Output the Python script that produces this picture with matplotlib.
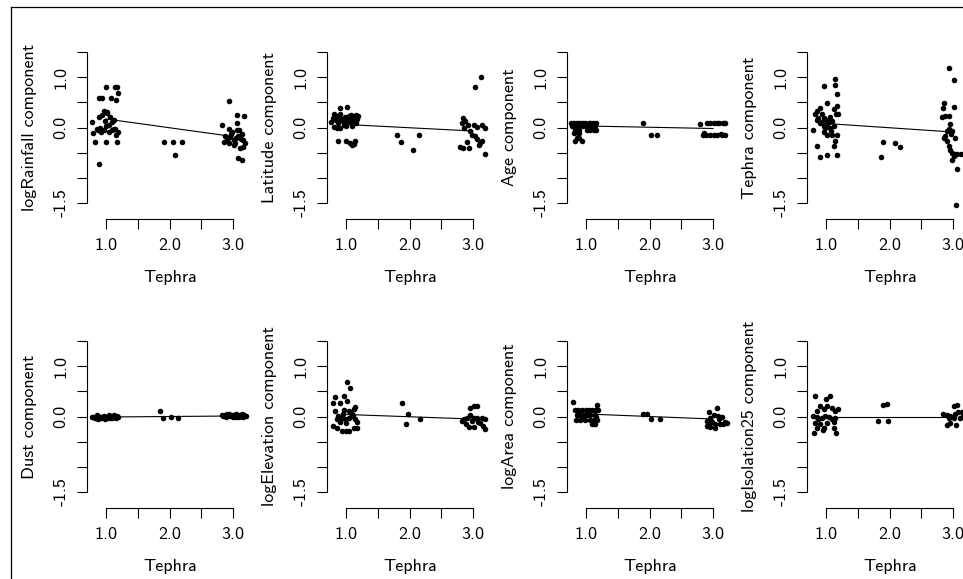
import matplotlib
matplotlib.use("Agg")
import matplotlib.pyplot as plt
from matplotlib.lines import Line2D

plt.rcParams['font.family'] = ['cmss10', 'DejaVu Sans']
plt.rcParams['axes.unicode_minus'] = False

# ---- partial residuals against (jittered) Tephra, one pair of lists per panel ----
rain_x = [0.995, 1.14, 1.18, 0.89, 0.93, 1.08, 1.15, 1.19, 0.97, 1.01, 0.94, 0.785, 0.89, 1.06, 1.13,
          0.80, 0.85, 0.905, 0.96, 0.995, 1.04, 1.09, 1.14, 1.19, 0.92, 0.83, 0.995, 1.17, 0.89,
          1.02, 1.10, 1.12, 0.87, 1.05, 0.98, 1.16,
          1.91, 2.06, 2.19, 2.09,
          2.93, 2.82, 2.94, 3.06, 3.18, 3.06, 2.98, 2.87, 2.90, 2.95, 3.01, 3.03, 3.08, 3.14, 3.16,
          3.19, 3.11, 3.08, 3.14, 3.01, 2.93, 2.86, 3.06, 3.15, 2.97, 3.04, 3.12, 3.10]
rain_y = [0.81, 0.81, 0.81, 0.59, 0.59, 0.59, 0.54, 0.69, 0.32, 0.29, 0.25, 0.10, 0.21, 0.21, 0.15,
          -0.11, -0.03, -0.01, -0.05, 0.02, -0.08, -0.05, -0.03, -0.08, -0.08, -0.28, -0.28, -0.28, -0.73,
          0.30, 0.10, -0.02, -0.05, 0.05, 0.12, -0.15,
          -0.28, -0.28, -0.28, -0.55,
          0.52, 0.05, -0.03, 0.25, 0.23, 0.09, -0.08, -0.17, -0.25, -0.18, -0.25, -0.31, -0.17, -0.13, -0.25,
          -0.31, -0.41, -0.61, -0.65, -0.35, -0.31, -0.28, -0.05, -0.38, -0.12, -0.20, -0.22, -0.05]

lat_x = [0.91, 1.02, 0.81, 0.85, 0.91,
         0.77, 0.80, 0.84, 0.88, 0.92, 0.95, 0.98, 1.00, 1.03, 1.05, 1.07, 1.10, 1.12, 1.14, 1.16,
         1.18, 1.19, 1.15, 1.08, 0.96, 0.81, 0.85, 0.91, 1.00, 1.10,
         0.88, 1.00, 1.06, 1.09, 1.14, 1.12,
         1.80, 1.86, 2.06, 2.15,
         2.84, 2.82, 2.86, 2.95, 3.01, 3.06, 3.14, 3.19, 3.03, 3.12, 2.80, 2.85, 2.93, 2.90, 3.03,
         3.07, 3.11, 3.14, 3.10, 3.19, 2.98, 2.88, 2.92]
lat_y = [0.39, 0.41, 0.26, 0.23, 0.26,
         0.10, 0.18, 0.14, 0.08, 0.17, 0.12, 0.20, 0.08, 0.15, 0.22, 0.10, 0.17, 0.13, 0.20, 0.09,
         0.16, 0.22, 0.25, 0.24, 0.05, 0.01, 0.00, 0.00, 0.02, 0.03,
         -0.26, -0.26, -0.31, -0.34, -0.27, -0.32,
         -0.14, -0.29, -0.45, -0.14,
         0.19, 0.08, 0.00, -0.07, 0.04, 0.01, 0.04, 0.00, 0.81, 1.01, -0.39, -0.40, -0.40, -0.29, -0.17,
         -0.22, -0.30, -0.27, -0.35, -0.52, -0.14, 0.12, 0.05]

age_x = [0.77, 0.81, 0.85, 0.89, 0.93, 0.99, 1.04, 1.07, 1.11, 1.16,
         0.78, 0.84, 0.89, 0.95, 1.02, 1.09, 1.14,
         0.83, 0.89, 1.02, 1.07, 1.13, 1.16,
         0.81, 0.87, 0.89, 0.85, 0.89, 0.83, 0.94,
         1.90, 2.03, 2.11,
         2.80, 2.91, 2.96, 3.01, 3.06, 3.10, 3.15, 3.19,
         2.84, 2.89, 2.95, 3.01, 3.07, 3.14, 3.19, 2.86, 3.12]
age_y = [0.08, 0.08, 0.08, 0.08, 0.08, 0.08, 0.08, 0.08, 0.08, 0.08,
         0.03, 0.03, 0.03, 0.03, 0.03, 0.03, 0.03,
         -0.04, -0.04, -0.04, -0.04, -0.04, -0.04,
         -0.10, -0.10, -0.10, -0.20, -0.20, -0.27, -0.27,
         0.09, -0.14, -0.14,
         0.06, 0.09, 0.09, 0.09, 0.09, 0.09, 0.09, 0.09,
         -0.14, -0.14, -0.14, -0.14, -0.14, -0.14, -0.14, -0.10, -0.12]

teph_x = [0.96, 1.14, 1.14, 1.18, 1.02, 0.85, 0.91, 0.83, 0.88, 0.93, 0.85, 0.97, 1.01, 1.06, 1.12,
          1.17, 1.16, 1.19, 0.80, 0.91, 0.96, 1.01, 1.06, 0.96, 1.01, 1.09, 1.17, 1.12, 1.14, 0.86,
          1.12, 0.91, 1.01, 1.18, 1.04, 1.08, 0.99, 1.10, 0.94,
          1.89, 1.87, 2.08, 2.17,
          2.93, 3.01, 2.86, 2.84, 2.82, 2.87, 2.93, 3.01, 2.95, 2.90, 2.87, 2.86, 2.94, 2.98, 3.03,
          2.93, 2.95, 2.98, 3.01, 2.99, 3.03, 3.07, 3.12, 3.07, 3.05, 3.24, 3.24, 2.97, 2.91]
teph_y = [0.82, 0.85, 0.97, 0.67, 0.49, 0.32, 0.39, 0.26, 0.19, 0.26, 0.15, 0.19, 0.15, 0.21, 0.36,
          0.42, 0.26, 0.26, -0.04, 0.08, 0.03, 0.06, -0.01, -0.09, -0.14, -0.14, -0.14, 0.03, -0.27, -0.37,
          -0.37, -0.58, -0.55, -0.55, 0.10, -0.06, 0.00, 0.12, 0.11,
          -0.29, -0.58, -0.30, -0.39,
          1.18, 0.95, 0.49, 0.39, 0.21, 0.22, 0.22, 0.41, 0.06, -0.07, -0.17, -0.21, -0.03, -0.07, -0.21,
          -0.37, -0.44, -0.50, -0.57, -0.65, -0.52, -0.52, -0.52, -0.83, -1.55, 1.05, 0.00, -0.12, -0.26]

dust_x = [0.78, 0.80, 0.82, 0.84, 0.86, 0.88, 0.90, 0.92, 0.94, 0.96, 0.98, 1.00, 1.02, 1.04, 1.06,
          1.08, 1.10, 1.12, 1.14, 1.16, 1.18, 1.19, 0.85, 0.97, 1.05,
          1.85, 1.90, 2.02, 2.14,
          2.82, 2.84, 2.87, 2.89, 2.92, 2.94, 2.96, 2.98, 3.00, 3.02, 3.04, 3.06, 3.08, 3.10, 3.12,
          3.14, 3.16, 3.18, 3.20, 2.90, 3.05, 3.15]
dust_y = [-0.01, 0.00, -0.03, -0.02, 0.00, -0.04, -0.01, -0.03, 0.00, -0.02, -0.04, -0.01, -0.03, 0.01, -0.02,
          0.00, -0.03, 0.02, 0.00, -0.02, 0.01, -0.01, 0.02, 0.01, 0.02,
          0.10, -0.03, -0.01, -0.03,
          0.02, 0.01, 0.03, 0.00, 0.02, 0.04, 0.01, 0.03, 0.00, 0.02, 0.04, 0.01, 0.03, 0.00, 0.02,
          0.04, 0.01, 0.03, 0.01, 0.04, -0.01, 0.00]

elev_x = [1.02, 1.06, 0.97, 0.83, 0.91, 1.01, 0.80, 0.83, 0.96, 1.04, 1.12, 1.14, 0.88, 0.93, 0.98,
          1.04, 1.09, 1.14, 1.18, 0.85, 0.91, 1.00, 0.80, 0.85, 0.93, 1.00, 1.05, 1.12, 1.17,
          1.08, 1.11, 0.95,
          1.88, 1.98, 1.95, 2.17,
          2.82, 2.90, 2.96, 3.01, 3.06, 2.95, 3.01, 3.07, 3.14, 3.19, 2.89, 2.94, 3.01, 3.11, 3.19,
          3.15, 2.98, 3.08, 2.86]
elev_y = [0.69, 0.56, 0.41, 0.38, 0.26, 0.31, 0.26, 0.11, 0.13, 0.11, 0.15, 0.18, 0.01, -0.02, -0.05,
          -0.02, 0.01, -0.05, -0.10, -0.05, -0.10, -0.12, -0.19, -0.22, -0.28, -0.28, -0.28, -0.22, -0.23,
          0.06, 0.02, 0.05,
          0.26, 0.05, -0.15, -0.05,
          -0.09, -0.02, 0.17, 0.21, 0.20, 0.03, -0.02, -0.02, -0.02, -0.05, -0.14, -0.21, -0.21, -0.12, -0.25,
          -0.19, -0.08, -0.10, -0.05]

area_x = [0.80, 1.17, 0.83, 0.88, 0.93, 1.00, 1.04, 1.09, 1.14, 1.19,
          0.85, 0.91, 0.96, 1.01, 1.07, 1.14, 0.84, 0.91, 0.98, 1.06, 1.12, 1.17, 1.09, 1.14,
          0.88, 1.02, 1.16, 0.94,
          1.90, 1.96, 2.03, 2.17,
          2.93, 3.06, 2.95, 3.01, 3.08, 3.14, 3.19, 2.90, 2.98, 3.03, 2.90, 2.95, 3.03, 3.11, 3.15,
          3.22, 2.96, 3.10, 2.92]
area_y = [0.29, 0.23, 0.12, 0.12, 0.12, 0.12, 0.12, 0.12, 0.12, 0.12,
          0.03, 0.03, 0.03, 0.03, 0.03, 0.03, -0.07, -0.07, -0.07, -0.07, -0.07, -0.07, -0.14, -0.14,
          0.08, 0.07, 0.00, -0.02,
          0.05, 0.05, -0.05, -0.04,
          0.08, 0.17, -0.02, 0.03, 0.01, -0.01, -0.10, -0.09, -0.10, -0.14, -0.19, -0.21, -0.22, -0.15, -0.15,
          -0.12, -0.06, -0.05, -0.14]

isol_x = [0.83, 1.00, 1.07, 0.91, 0.96, 0.85, 1.01, 1.09, 1.14, 1.19, 0.80, 0.85, 0.88, 0.93, 0.98,
          1.04, 1.09, 1.14, 0.83, 0.91, 1.01, 1.12, 0.85, 0.97, 1.12, 0.81, 0.95, 1.16,
          1.89, 1.96, 1.82, 1.98,
          2.84, 2.90, 2.96, 3.03, 3.08, 3.14, 3.01, 3.07, 2.93, 3.01, 2.90, 3.05, 2.95, 3.11, 3.16,
          3.24, 3.24]
isol_y = [0.41, 0.34, 0.41, 0.21, 0.15, 0.11, 0.21, 0.17, 0.11, 0.15, 0.01, -0.01, -0.05, -0.02, 0.01,
          -0.01, -0.05, -0.03, -0.12, -0.14, -0.12, -0.10, -0.22, -0.23, -0.22, -0.32, -0.27, -0.33,
          0.23, 0.24, -0.09, -0.09,
          0.05, 0.03, 0.01, 0.05, 0.08, 0.08, 0.21, 0.23, -0.02, -0.02, -0.17, -0.17, -0.12, -0.02, 0.01,
          -0.30, 0.05]

# fitted term at Tephra = 1 and Tephra = 3
line_x = [1.0, 3.0]
rain_line = [0.17, -0.18]
lat_line = [0.06, -0.07]
age_line = [0.03, -0.02]
teph_line = [0.08, -0.09]
dust_line = [-0.01, 0.01]
elev_line = [0.04, -0.05]
area_line = [0.05, -0.05]
isol_line = [0.0, 0.0]

panels = [
    ("logRainfall component", rain_x, rain_y, rain_line),
    ("Latitude component", lat_x, lat_y, lat_line),
    ("Age component", age_x, age_y, age_line),
    ("Tephra component", teph_x, teph_y, teph_line),
    ("Dust component", dust_x, dust_y, dust_line),
    ("logElevation component", elev_x, elev_y, elev_line),
    ("logArea component", area_x, area_y, area_line),
    ("logIsolation25 component", isol_x, isol_y, isol_line),
]

x_ticks = [1.0, 1.5, 2.0, 2.5, 3.0]
x_tick_labels = ["1.0", "", "2.0", "", "3.0"]
y_ticks = [-1.5, -1.0, -0.5, 0.0, 0.5, 1.0, 1.5]
y_tick_labels = ["-1.5", "", "", "0.0", "", "1.0", ""]

W, H = 963, 579
fig = plt.figure(figsize=(W / 100, H / 100), dpi=100)

for i, (ylab, xs, ys, fit) in enumerate(panels):
    row, col = divmod(i, 4)
    left = 87 + 240 * col
    bottom = 219 + 289 * row
    ax = fig.add_axes([left / W, 1 - bottom / H, 166 / W, 183 / H])
    ax.plot(line_x, fit, color='black', lw=0.8)
    ax.plot(xs, ys, 'o', color='black', ms=4.0, mew=0)
    ax.set_xlim(0.70, 3.315)
    ax.set_ylim(-1.82, 1.82)
    for s in ['top', 'right']:
        ax.spines[s].set_visible(False)
    ax.spines['left'].set_bounds(-1.5, 1.5)
    ax.spines['bottom'].set_bounds(1.0, 3.0)
    for s in ['left', 'bottom']:
        ax.spines[s].set_linewidth(0.8)
    ax.set_xticks(x_ticks)
    ax.set_xticklabels(x_tick_labels)
    ax.set_yticks(y_ticks)
    ax.set_yticklabels(y_tick_labels, rotation=90, va='center')
    ax.tick_params(direction='out', length=7.5, width=0.8, labelsize=13)
    ax.tick_params(axis='x', pad=6)
    ax.tick_params(axis='y', pad=6)
    ax.set_xlabel("Tephra", fontsize=13)
    ax.xaxis.set_label_coords(0.5, -0.32)
    ax.xaxis.label.set_va('center')
    ax.set_ylabel(ylab, fontsize=13)
    ax.yaxis.set_label_coords(-0.345, 0.5)
    ax.yaxis.label.set_va('center')

# outer frame (only left and top edges fall inside the picture)
fig.add_artist(Line2D([11 / W, 11 / W], [0, 1 - 7 / H], transform=fig.transFigure, color='black', lw=0.9))
fig.add_artist(Line2D([11 / W, 1], [1 - 7 / H, 1 - 7 / H], transform=fig.transFigure, color='black', lw=0.9))

fig.savefig("out.png", dpi=100)
